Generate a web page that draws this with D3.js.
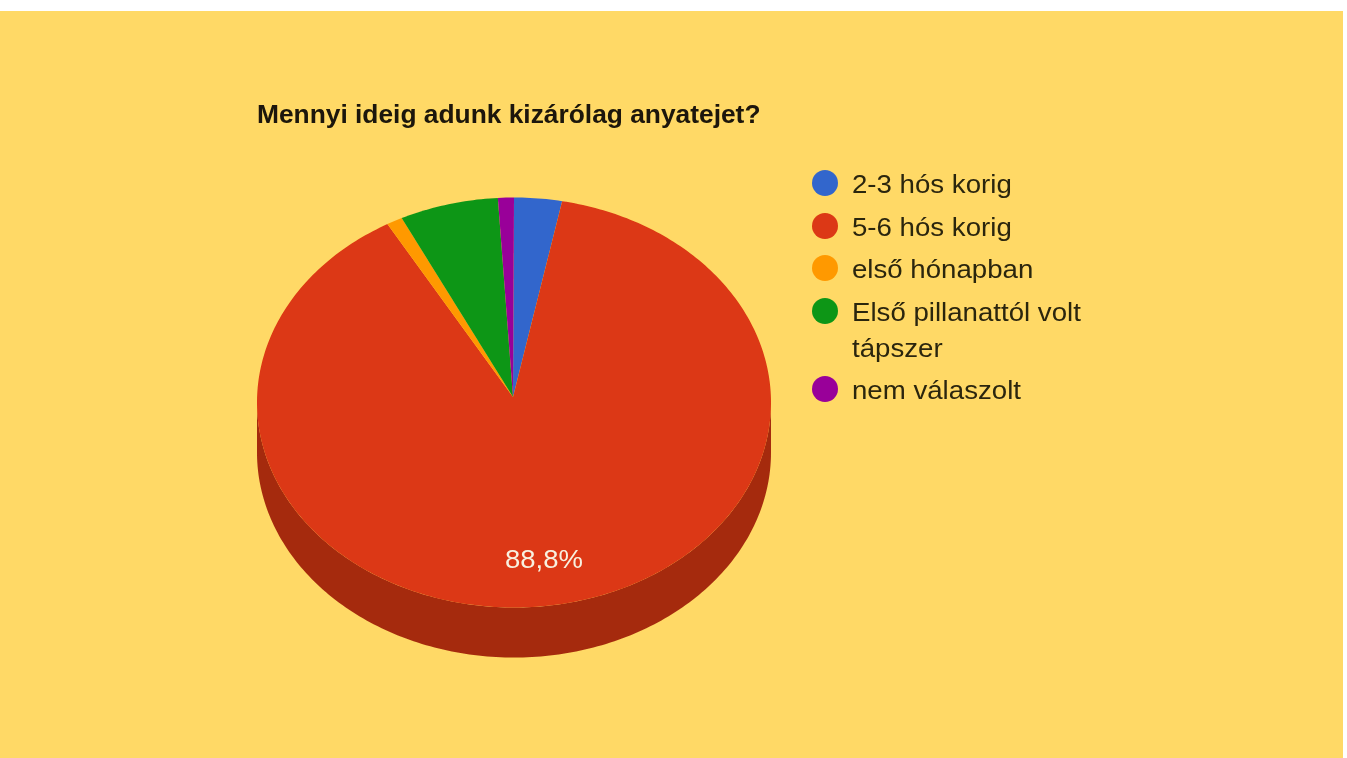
<!DOCTYPE html>
<html><head><meta charset="utf-8">
<script src="https://cdn.jsdelivr.net/npm/d3@7"></script>
<style>html,body{margin:0;padding:0;background:#fff;overflow:hidden}svg{display:block}text{font-family:"Liberation Sans",Arial,sans-serif}</style>
</head><body><svg id="c" width="1347" height="758"></svg>
<script>
const categories=["2-3 hós korig","5-6 hós korig","első hónapban","Első pillanattól volt tápszer","nem válaszolt"];
const values=[3.0,88.8,1.0,6.2,1.0];
const colors=["#3366cc","#dc3912","#ff9900","#109618","#990099"];
const sideColor="#a52a0d";
const legendLines=[["2-3 hós korig"],["5-6 hós korig"],["első hónapban"],["Első pillanattól volt","tápszer"],["nem válaszolt"]];
const legendY=[184,227,269,312,390];
const titleText="Mennyi ideig adunk kizárólag anyatejet?";
const labelText="88,8%";

const svg=d3.select("#c");
const defs=svg.append("defs");
defs.append("filter").attr("id","soft").attr("x","-5%").attr("y","-5%").attr("width","110%").attr("height","110%")
  .append("feGaussianBlur").attr("stdDeviation",0.55);
svg.append("rect").attr("x",0).attr("y",11).attr("width",1343).attr("height",747).attr("fill","#ffd966");
const root=svg.append("g").attr("filter","url(#soft)");
root.append("text").attr("transform","translate(257,123) scale(1.054,1)").attr("font-size",25).attr("font-weight","bold").attr("fill","#1a1408").text(titleText);

const rx=257,ry=205,cx=514,cy=402.5,depth=50,apexX=513,apexY=397;
const pie=d3.pie().sort(null).value(d=>d);
const arcs=pie(values);
const sx=d3.scaleLinear().domain([-1,1]).range([cx-rx,cx+rx]);
const sy=d3.scaleLinear().domain([-1,1]).range([cy-ry,cy+ry]);
const wall=d3.area().x(a=>sx(Math.cos(a))).y0(a=>sy(Math.sin(a))).y1(a=>sy(Math.sin(a))+depth);
root.append("path").attr("d",wall(d3.range(0,181).map(i=>i*Math.PI/180))).attr("fill",sideColor);
const line=d3.line();
const wedge=d=>{
  const n=Math.max(2,Math.ceil((d.endAngle-d.startAngle)*60));
  const pts=d3.range(n+1).map(i=>{const a=d.startAngle+(d.endAngle-d.startAngle)*i/n;return [sx(Math.sin(a)),sy(-Math.cos(a))];});
  return line([[apexX,apexY],...pts])+"Z";
};
root.append("g").selectAll("path").data(arcs).join("path").attr("d",wedge).attr("fill",(d,i)=>colors[i]);
root.append("text").attr("transform","translate(544,568) scale(1.1,1)").attr("text-anchor","middle").attr("font-size",25).attr("fill","#f8f0e0").text(labelText);

const lg=root.append("g");
categories.forEach((c,i)=>{
  lg.append("circle").attr("cx",825).attr("cy",legendY[i]-1).attr("r",13).attr("fill",colors[i]);
  legendLines[i].forEach((t,j)=>lg.append("text").attr("transform",`translate(852,${legendY[i]+9+j*36}) scale(1.106,1)`).attr("font-size",25).attr("fill","#2b2510").text(t));
});
</script></body></html>
